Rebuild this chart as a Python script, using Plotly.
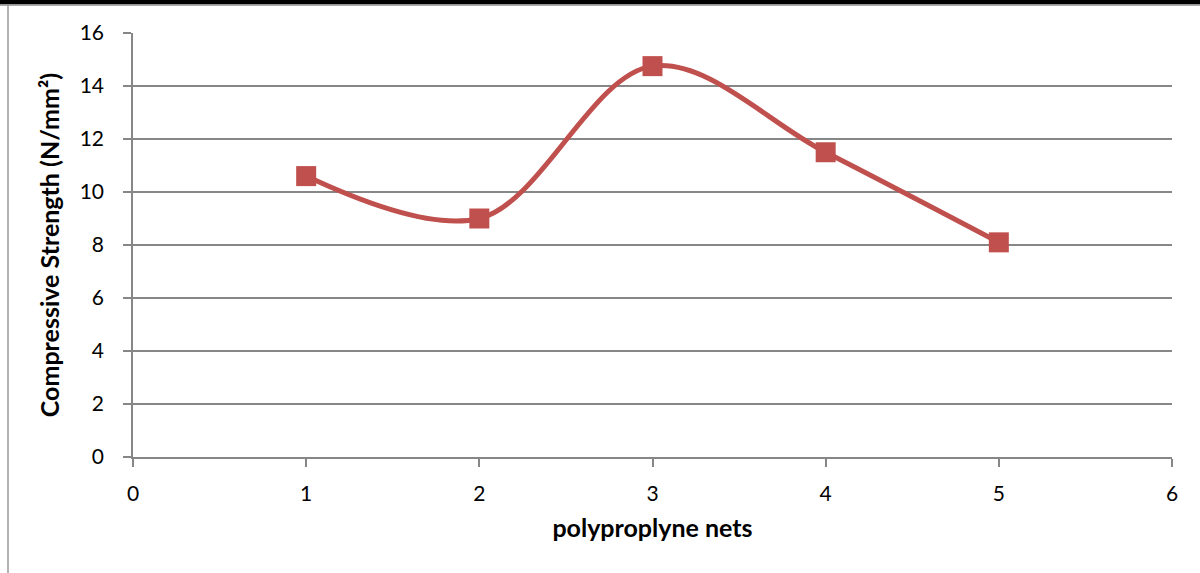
import plotly.graph_objects as go

nets = [1, 2, 3, 4, 5]
strength = [10.6, 9.0, 14.75, 11.5, 8.1]
x_ticks = [0, 1, 2, 3, 4, 5, 6]
y_ticks = [0, 2, 4, 6, 8, 10, 12, 14, 16]

RED = "#C0504D"
GRID = "#878787"

fig = go.Figure()
fig.add_trace(go.Scatter(
    x=nets, y=strength, mode="lines+markers",
    line=dict(color=RED, width=5, shape="spline", smoothing=1.0),
    marker=dict(symbol="square", size=20, color=RED, line=dict(width=0)),
    showlegend=False, cliponaxis=False,
))

fig.update_layout(
    width=1200, height=573,
    margin=dict(l=133, r=28, t=33, b=116),
    paper_bgcolor="white", plot_bgcolor="white",
    font=dict(family="Lato, Open Sans, sans-serif", size=21, color="black"),
    xaxis=dict(
        range=[0, 6], tickvals=x_ticks, ticktext=[str(v) for v in x_ticks],
        showgrid=False, zeroline=False, showline=True, linecolor=GRID, linewidth=1.5,
        ticks="outside", ticklen=8, tickcolor=GRID, tickwidth=1.5,
        ticklabelstandoff=9,
        title=dict(text="<b>polyproplyne nets</b>", font=dict(size=25), standoff=16),
        tickfont=dict(size=21),
    ),
    yaxis=dict(
        range=[0, 16], tickvals=y_ticks, ticktext=[str(v) for v in y_ticks],
        showgrid=True, gridcolor=GRID, gridwidth=1.5,
        zeroline=False, showline=True, linecolor=GRID, linewidth=1.5,
        ticks="outside", ticklen=8, tickcolor=GRID, tickwidth=1.5,
        ticklabelstandoff=15,
        title=dict(text="<b>Compressive Strength (N/mm²)</b>", font=dict(size=25), standoff=13),
        tickfont=dict(size=21),
    ),
    shapes=[
        dict(type="rect", xref="paper", yref="paper",
             x0=-0.2, x1=1.1, y0=(457 - 4.5) / 424, y1=(457 + 3) / 424,
             fillcolor="black", line=dict(width=0), layer="above"),
        dict(type="line", xref="paper", yref="paper",
             x0=-0.2, x1=1.1, y0=(457 - 5.3) / 424, y1=(457 - 5.3) / 424,
             line=dict(color="#AAAAAA", width=1.5)),
        dict(type="line", xref="paper", yref="paper",
             x0=(8 - 133) / 1039, x1=(8 - 133) / 1039,
             y0=(457 - 573) / 424, y1=(457 - 5) / 424,
             line=dict(color="#999999", width=1.5)),
    ],
)

fig.write_html("out.html", config={"displayModeBar": False},
               post_script="document.body.style.margin='0';")
